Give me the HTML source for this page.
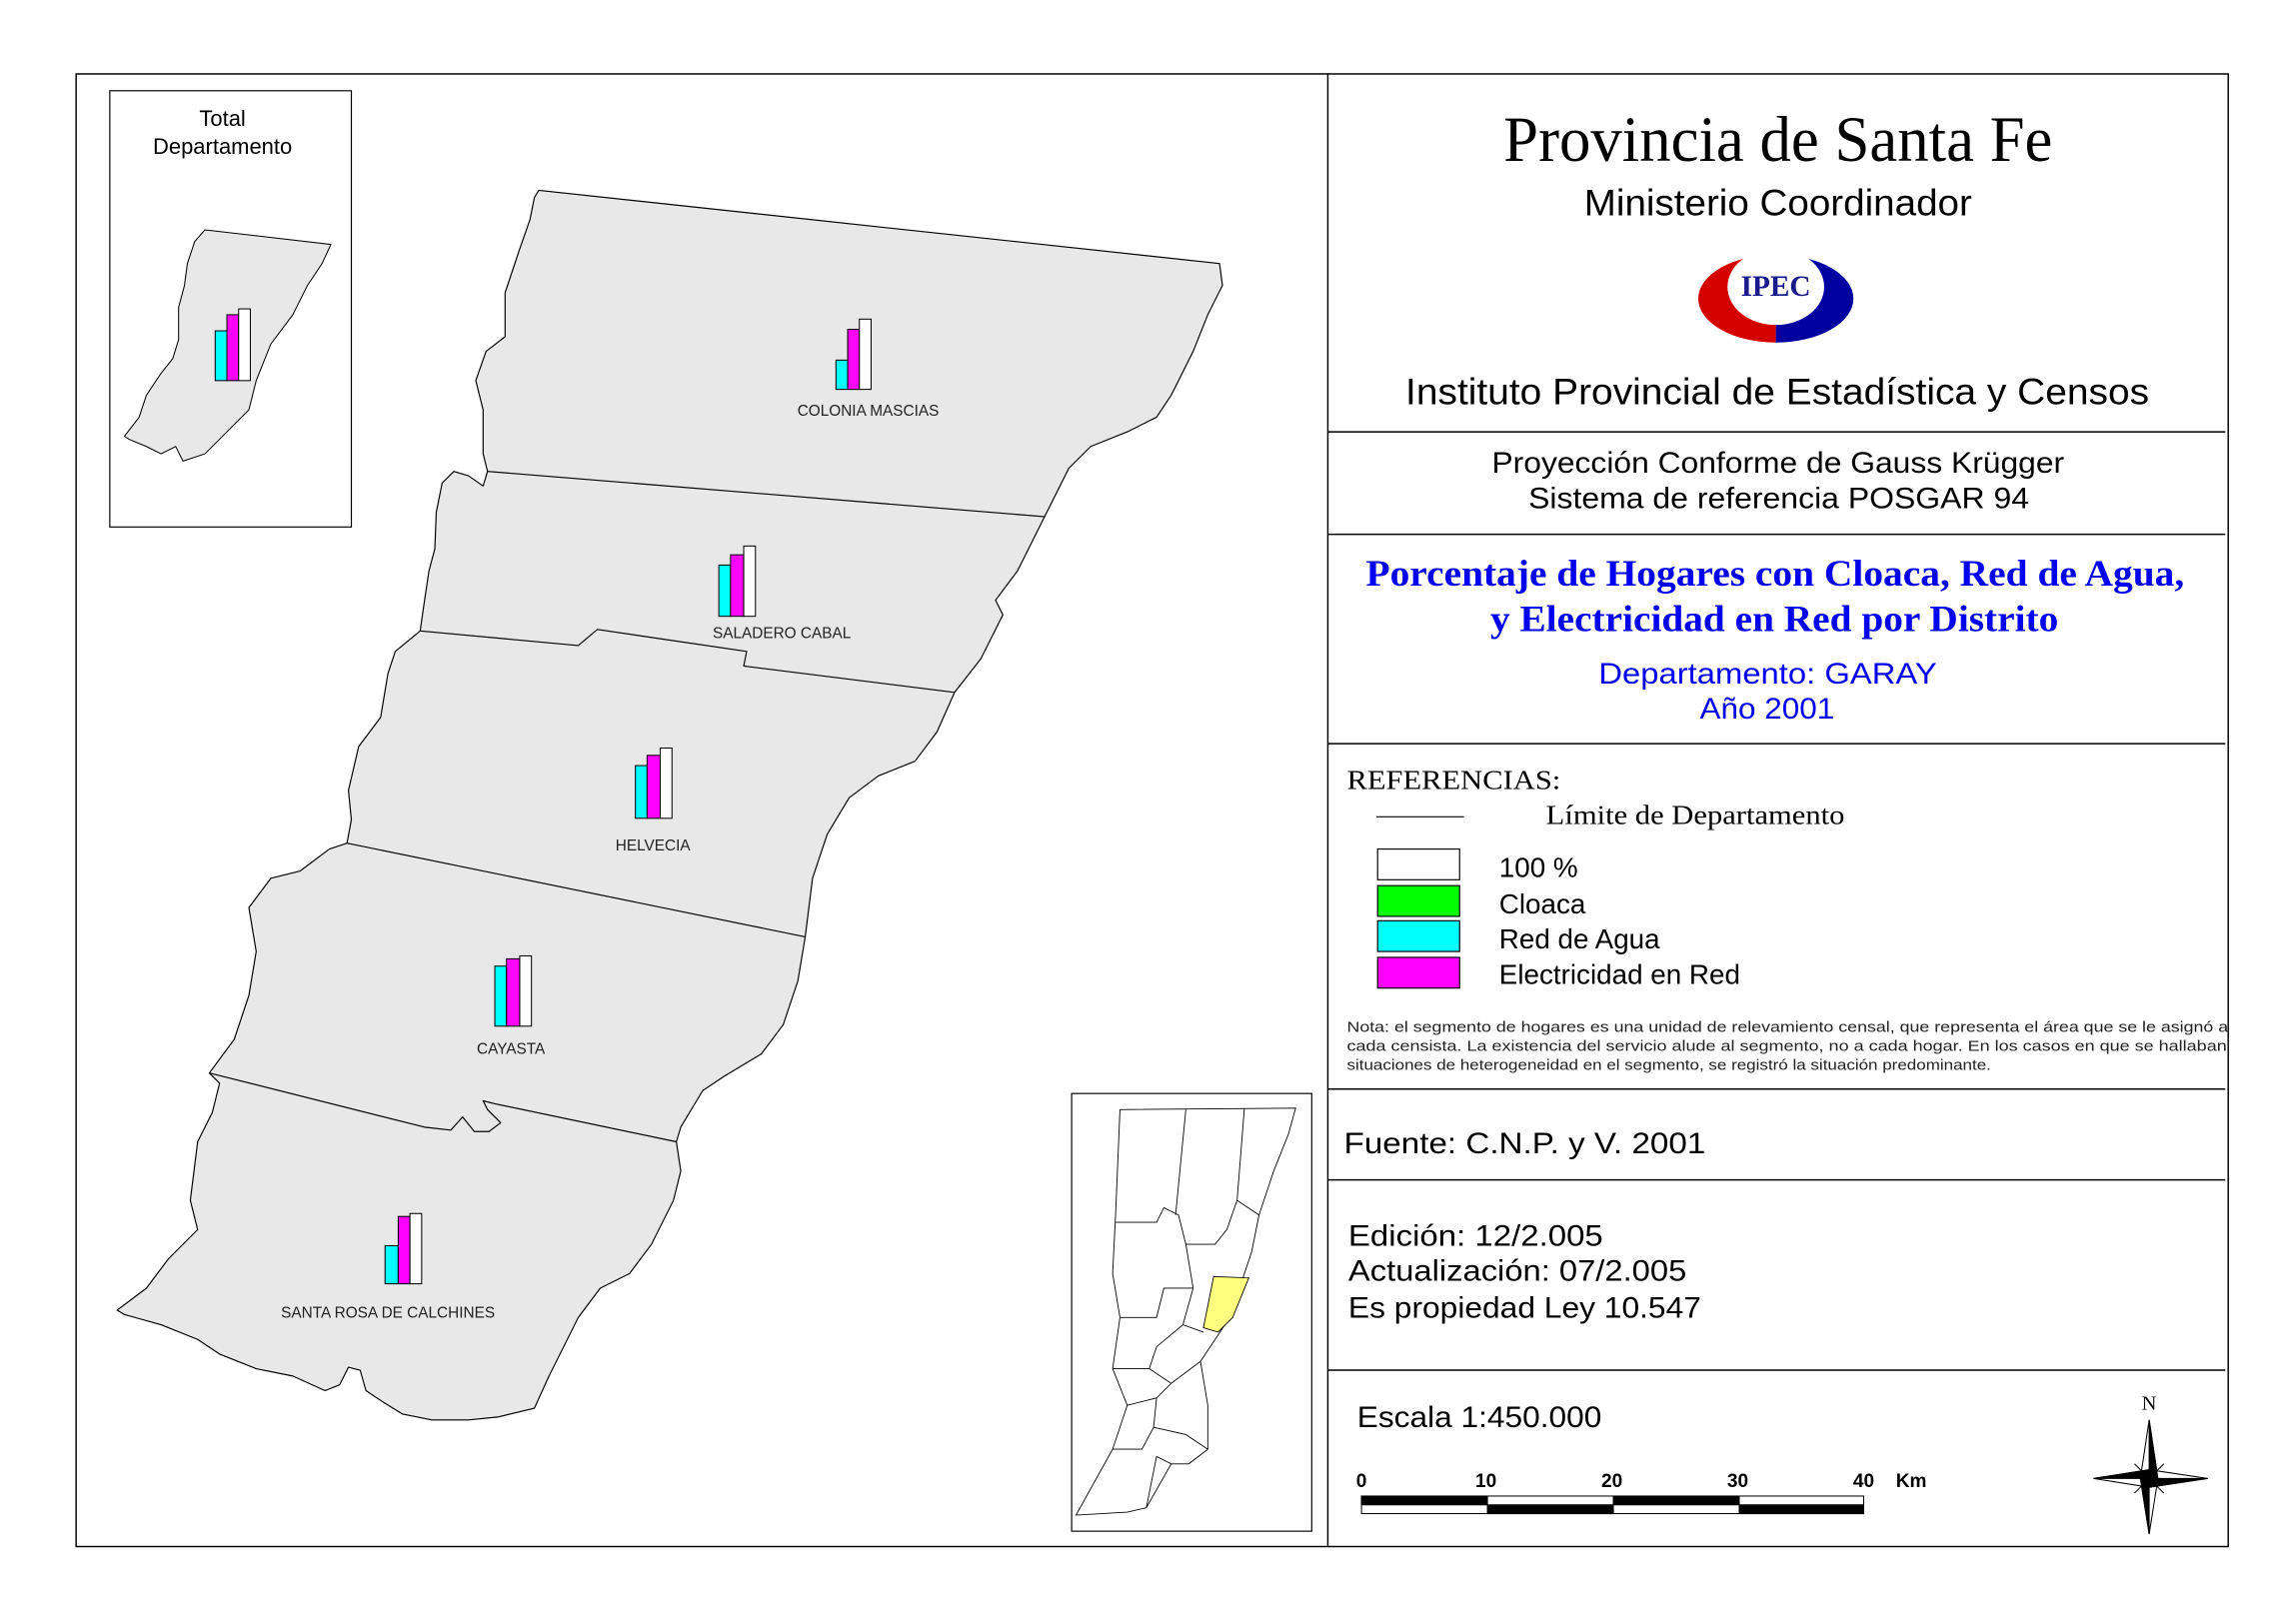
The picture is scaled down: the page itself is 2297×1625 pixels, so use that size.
<!DOCTYPE html>
<html><head><meta charset="utf-8"><style>
html,body{margin:0;padding:0;background:#fff;}
svg{display:block;}
.s{font-family:"Liberation Sans",sans-serif;}
.r{font-family:"Liberation Serif",serif;}
</style></head><body>
<svg width="2297" height="1625" viewBox="0 0 1568.3 1109.4" preserveAspectRatio="none" xmlns="http://www.w3.org/2000/svg">
<rect x="0" y="0" width="1570" height="1110" fill="#fff"/>
<g fill="none" stroke="#000" stroke-width="1">
<rect x="52" y="50.5" width="1470" height="1006"/>
<line x1="907" y1="50" x2="907" y2="1056"/>
<line x1="907" y1="295" x2="1520" y2="295"/>
<line x1="907" y1="365" x2="1520" y2="365"/>
<line x1="907" y1="508" x2="1520" y2="508"/>
<line x1="907" y1="744" x2="1520" y2="744"/>
<line x1="907" y1="806" x2="1520" y2="806"/>
<line x1="907" y1="936" x2="1520" y2="936"/>
<rect x="75" y="62" width="165" height="298" stroke-width="0.8"/>
<rect x="732" y="747" width="164" height="299" stroke-width="0.8"/>
</g>
<!-- main map -->
<g stroke="#000" stroke-width="0.8" stroke-linejoin="round">
<path fill="#e8e8e8" d="M368,130 L833,180 L835,195 L825,215 L815,240 L800,270 L790,285 L770,295 L745,305 L730,320 L715,350 L695,390 L680,410 L685,420 L670,450 L652,473 L640,500 L625,520 L600,530 L580,545 L565,570 L555,600 L550,640 L545,670 L535,700 L520,720 L495,735 L480,745 L465,770 L462,780 L465,800 L460,820 L445,850 L430,870 L410,880 L395,900 L385,920 L375,940 L365,962 L340,968 L320,970 L295,970 L275,966 L262,958 L250,950 L246,936 L238,934 L232,946 L222,950 L200,940 L175,935 L150,925 L135,915 L110,905 L85,898 L80,895 L100,880 L115,860 L135,840 L130,820 L135,780 L145,760 L150,740 L143,733 L160,710 L170,680 L175,650 L170,620 L185,600 L205,595 L225,580 L237,576 L240,560 L238,540 L245,510 L260,490 L265,460 L270,445 L287,431 L290,410 L293,390 L297,375 L298,350 L302,330 L310,322 L320,325 L330,332 L333,322 L330,310 L330,280 L325,260 L332,240 L345,230 L345,200 L355,170 L362,150 L365,135 Z"/>
<path fill="none" d="M333,322 L714,353"/>
<path fill="none" d="M287,431 L395,441 L408,430 L510,445 L508,455 L652,473"/>
<path fill="none" d="M237,576 L550,640"/>
<path fill="none" d="M143,733 L290,770 L308,772 L316,763 L324,773 L334,773 L342,767 L333,758 L330,752 L338,754 L462,780"/>
</g>
<!-- bars -->
<g stroke="#000" stroke-width="0.7">
<rect x="571" y="246" width="8" height="20" fill="#00ffff"/><rect x="579" y="225" width="8" height="41" fill="#ff00ff"/><rect x="587" y="218" width="8" height="48" fill="#fff"/>
<rect x="491" y="386" width="8" height="35" fill="#00ffff"/><rect x="499" y="379" width="9" height="42" fill="#ff00ff"/><rect x="508" y="373" width="8" height="48" fill="#fff"/>
<rect x="434" y="523" width="8" height="36" fill="#00ffff"/><rect x="442" y="516" width="9" height="43" fill="#ff00ff"/><rect x="451" y="511" width="8" height="48" fill="#fff"/>
<rect x="338" y="660" width="8" height="41" fill="#00ffff"/><rect x="346" y="655" width="9" height="46" fill="#ff00ff"/><rect x="355" y="653" width="8" height="48" fill="#fff"/>
<rect x="263" y="851" width="9" height="26" fill="#00ffff"/><rect x="272" y="831" width="8" height="46" fill="#ff00ff"/><rect x="280" y="829" width="8" height="48" fill="#fff"/>
</g>
<g class="s" font-size="10.5" fill="#222" text-anchor="middle">
<text x="593" y="284">COLONIA MASCIAS</text>
<text x="534" y="436">SALADERO CABAL</text>
<text x="446" y="581">HELVECIA</text>
<text x="349" y="720">CAYASTA</text>
<text x="265" y="900">SANTA ROSA DE CALCHINES</text>
</g>
<!-- top-left inset -->
<text class="s" x="152" y="86" font-size="15" text-anchor="middle">Total</text>
<text class="s" x="152" y="105" font-size="15" text-anchor="middle">Departamento</text>
<path fill="#e8e8e8" stroke="#000" stroke-width="0.7" d="M140,157 L226,167 L220,180 L210,195 L200,215 L185,235 L175,260 L170,280 L160,290 L150,300 L140,310 L125,315 L120,305 L110,310 L100,305 L88,300 L85,298 L95,285 L100,270 L110,255 L118,245 L122,232 L122,210 L126,195 L128,180 L133,165 Z"/>
<g stroke="#000" stroke-width="0.7">
<rect x="147" y="226" width="8" height="34" fill="#00ffff"/><rect x="155" y="215" width="8" height="45" fill="#ff00ff"/><rect x="163" y="211" width="8" height="49" fill="#fff"/>
</g>
<!-- bottom-right inset -->
<g fill="none" stroke="#000" stroke-width="0.6">
<path fill="#fff" d="M765,758 L885,757 L880,775 L870,800 L860,830 L855,855 L850,870 L840,900 L830,915 L820,930 L825,960 L825,990 L812,1000 L800,1000 L783,1030 L770,1033 L735,1035 L760,990 L770,960 L760,935 L765,900 L760,870 L762,830 Z"/>
<path d="M810,758 L803,830 M850,757 L845,820 L860,830 M762,835 L790,835 L795,825 L805,830 L810,850 L830,850 L838,840 L845,820 M810,850 L815,880 L808,905 M765,900 L790,900 L795,880 L815,880 M760,935 L785,935 L790,920 L808,905 L822,910 M785,935 L800,945 L820,930 M770,960 L790,955 L800,945 M790,955 L788,975 L780,990 L760,990 M788,975 L810,980 L825,990 M783,1030 L790,995 L800,1000"/>
</g>
<path fill="#ffff80" stroke="#000" stroke-width="0.6" d="M829,872 L853,873 L842,900 L832,910 L822,907 Z"/>
<!-- right panel -->
<text class="r" x="1027" y="110" font-size="44" textLength="375" lengthAdjust="spacingAndGlyphs">Provincia de Santa Fe</text>
<text class="s" x="1082" y="147" font-size="25" textLength="265" lengthAdjust="spacingAndGlyphs">Ministerio Coordinador</text>
<g>
<path d="M1213,174 A53,30 0 0 0 1213,234 Z" fill="#d40000"/>
<path d="M1213,174 A53,30 0 0 1 1213,234 Z" fill="#0000a0"/>
<ellipse cx="1213" cy="196" rx="33" ry="26" fill="#fff"/>
<text class="r" x="1213" y="202" font-size="20" font-weight="bold" fill="#1a1a8c" text-anchor="middle">IPEC</text>
</g>
<text class="s" x="960" y="276" font-size="25" textLength="508" lengthAdjust="spacingAndGlyphs">Instituto Provincial de Estadística y Censos</text>
<text class="s" x="1019" y="323" font-size="20" textLength="391" lengthAdjust="spacingAndGlyphs">Proyección Conforme de Gauss Krügger</text>
<text class="s" x="1044" y="347" font-size="20" textLength="342" lengthAdjust="spacingAndGlyphs">Sistema de referencia POSGAR 94</text>
<text class="r" x="933" y="400" font-size="25" font-weight="bold" fill="#0000ee" textLength="559" lengthAdjust="spacingAndGlyphs">Porcentaje de Hogares con Cloaca, Red de Agua,</text>
<text class="r" x="1018" y="431" font-size="25" font-weight="bold" fill="#0000ee" textLength="388" lengthAdjust="spacingAndGlyphs">y Electricidad en Red por Distrito</text>
<text class="s" x="1092" y="467" font-size="20" fill="#0000ee" textLength="231" lengthAdjust="spacingAndGlyphs">Departamento:  GARAY</text>
<text class="s" x="1161" y="491" font-size="20" fill="#0000ee" textLength="92" lengthAdjust="spacingAndGlyphs">Año 2001</text>
<text class="r" x="920" y="539" font-size="19" textLength="146" lengthAdjust="spacingAndGlyphs">REFERENCIAS:</text>
<line x1="940" y1="558" x2="1000" y2="558" stroke="#000" stroke-width="0.8"/>
<text class="r" x="1056" y="563" font-size="19" textLength="204" lengthAdjust="spacingAndGlyphs">Límite de Departamento</text>
<g stroke="#000" stroke-width="0.8">
<rect x="941" y="580" width="56" height="21" fill="#fff"/>
<rect x="941" y="605" width="56" height="21" fill="#00ff00"/>
<rect x="941" y="629" width="56" height="21" fill="#00ffff"/>
<rect x="941" y="654" width="56" height="21" fill="#ff00ff"/>
</g>
<g class="s" font-size="19">
<text x="1024" y="599">100 %</text>
<text x="1024" y="624">Cloaca</text>
<text x="1024" y="648">Red de Agua</text>
<text x="1024" y="672">Electricidad en Red</text>
</g>
<g class="s" font-size="10" fill="#222">
<text x="920" y="705" textLength="602" lengthAdjust="spacingAndGlyphs">Nota:  el segmento de hogares es una unidad de relevamiento censal, que representa el área que se le asignó a</text>
<text x="920" y="718" textLength="601" lengthAdjust="spacingAndGlyphs">cada censista.  La existencia del servicio alude al segmento, no a cada hogar.  En los casos en que se hallaban</text>
<text x="920" y="731" textLength="440" lengthAdjust="spacingAndGlyphs">situaciones de heterogeneidad en el segmento, se registró la situación predominante.</text>
</g>
<text class="s" x="918" y="788" font-size="20" textLength="247" lengthAdjust="spacingAndGlyphs">Fuente:  C.N.P. y V. 2001</text>
<text class="s" x="921" y="851" font-size="20" textLength="174" lengthAdjust="spacingAndGlyphs">Edición:  12/2.005</text>
<text class="s" x="921" y="875" font-size="20" textLength="231" lengthAdjust="spacingAndGlyphs">Actualización:  07/2.005</text>
<text class="s" x="921" y="900" font-size="20" textLength="241" lengthAdjust="spacingAndGlyphs">Es propiedad Ley 10.547</text>
<text class="s" x="927" y="975" font-size="20" textLength="167" lengthAdjust="spacingAndGlyphs">Escala 1:450.000</text>
<g class="s" font-size="13" font-weight="bold">
<text x="930" y="1016" text-anchor="middle">0</text>
<text x="1015" y="1016" text-anchor="middle">10</text>
<text x="1101" y="1016" text-anchor="middle">20</text>
<text x="1187" y="1016" text-anchor="middle">30</text>
<text x="1273" y="1016" text-anchor="middle">40</text>
<text x="1295" y="1016">Km</text>
</g>
<g stroke="#000" stroke-width="0.7">
<rect x="930" y="1022" width="343" height="12" fill="#fff"/>
<rect x="930" y="1022" width="86" height="6" fill="#000"/>
<rect x="1016" y="1028" width="86" height="6" fill="#000"/>
<rect x="1102" y="1022" width="86" height="6" fill="#000"/>
<rect x="1188" y="1028" width="85" height="6" fill="#000"/>
</g>
<!-- north arrow -->
<text class="r" x="1468" y="963" font-size="14" text-anchor="middle">N</text>
<g stroke="#000" stroke-width="0.7">
<path d="M1468,970 L1474,1010 L1468,1048 L1462,1010 Z" fill="#fff"/>
<path d="M1430,1010 L1468,1004 L1508,1010 L1468,1016 Z" fill="#fff"/>
<path d="M1468,970 L1474,1010 L1468,1010 Z M1468,1048 L1462,1010 L1468,1010 Z M1430,1010 L1468,1004 L1468,1010 Z M1508,1010 L1468,1016 L1468,1010 Z" fill="#000"/>
<path d="M1458,1000 L1468,1010 L1478,1020 M1478,1000 L1468,1010 L1458,1020" fill="none"/>
</g>
</svg>
</body></html>
